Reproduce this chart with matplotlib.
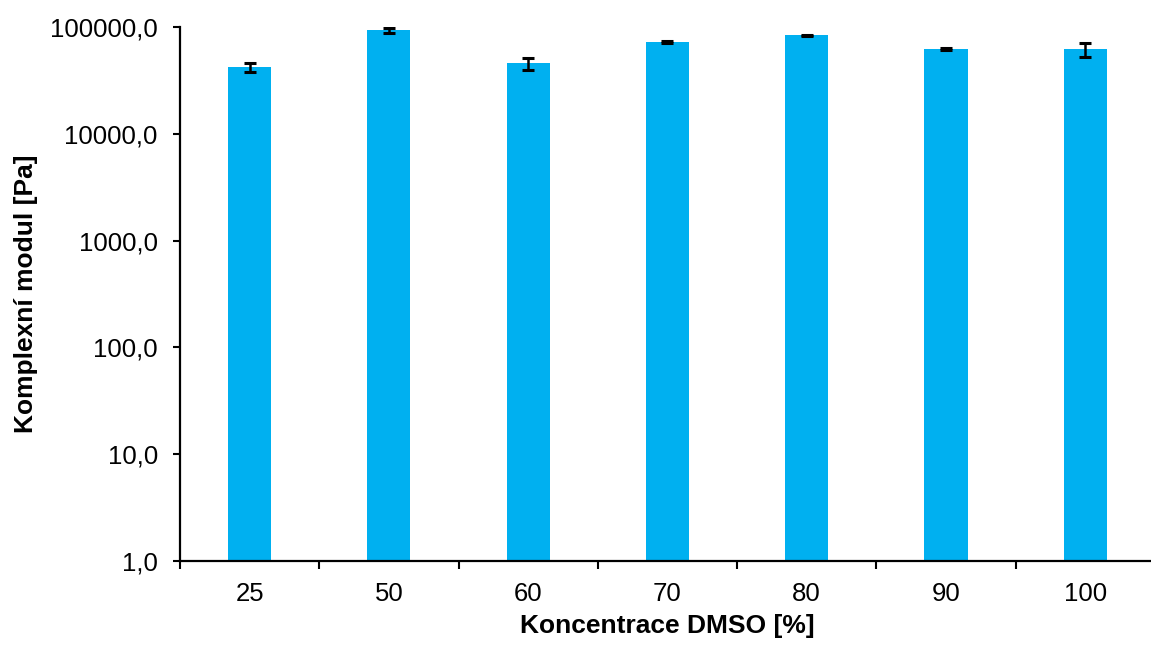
import numpy as np
import matplotlib.pyplot as plt
from matplotlib.ticker import FixedLocator, FuncFormatter, NullFormatter

plt.rcParams['font.family'] = ['Liberation Sans', 'DejaVu Sans']

# data
koncentrace = ['25', '50', '60', '70', '80', '90', '100']
modul = [42100, 93500, 45900, 73100, 83900, 62100, 62100]
chyba = [4000, 4500, 6000, 1500, 1700, 1300, 9000]

fig = plt.figure(figsize=(11.51, 6.46), dpi=100)
ax = fig.add_axes([0.1564, 0.132, 0.8469, 0.8257])

x = np.arange(len(koncentrace))
ax.bar(x, modul, width=0.31, color='#00B0F0', zorder=2)
ax.errorbar(x, modul, yerr=chyba, fmt='none', ecolor='black',
            elinewidth=1.8, capsize=4.5, capthick=2.2, zorder=3)

ax.set_yscale('log')
ax.set_ylim(1, 100000)
ax.set_xlim(-0.5, len(koncentrace) - 0.5)

# y osa
ax.yaxis.set_major_locator(FixedLocator([1, 10, 100, 1000, 10000, 100000]))
ax.yaxis.set_minor_locator(FixedLocator([]))
ax.yaxis.set_major_formatter(FuncFormatter(lambda v, p: f'{v:.1f}'.replace('.', ',')))
ax.tick_params(axis='y', which='major', length=5, width=1.5, direction='out',
               labelsize=18.5, pad=11, colors='black')

# x osa: carky mezi kategoriemi, popisky uprostred
ax.xaxis.set_major_locator(FixedLocator(np.arange(-0.5, len(koncentrace), 1.0)))
ax.xaxis.set_major_formatter(NullFormatter())
ax.xaxis.set_minor_locator(FixedLocator(x))
ax.set_xticklabels(koncentrace, minor=True)
ax.tick_params(axis='x', which='minor', length=0, labelsize=18.5, pad=15)
ax.tick_params(axis='x', which='major', length=5.5, width=1.5, direction='out')

for s in ['top', 'right']:
    ax.spines[s].set_visible(False)
for s in ['left', 'bottom']:
    ax.spines[s].set_linewidth(1.6)

ax.set_xlabel('Koncentrace DMSO [%]', fontsize=19, fontweight='bold', labelpad=6)
ax.set_ylabel('Komplexní modul [Pa]', fontsize=19, fontweight='bold', labelpad=9)

fig.savefig('out.png', dpi=100)
